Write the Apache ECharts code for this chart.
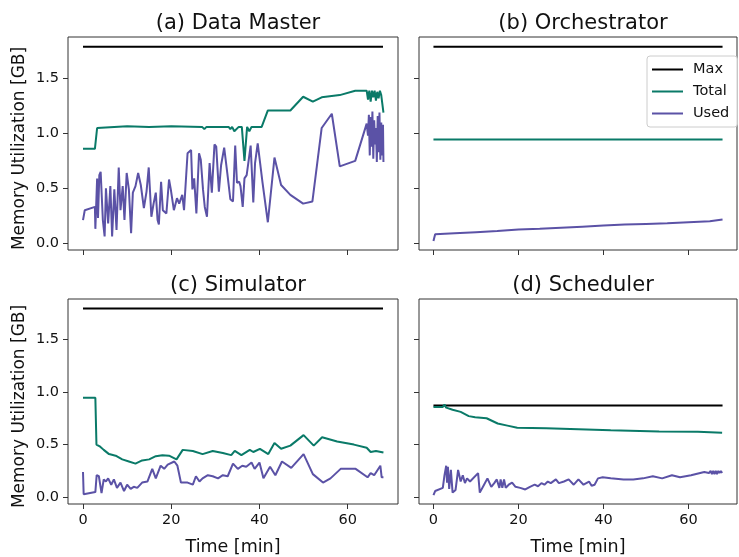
<!DOCTYPE html>
<html>
<head>
<meta charset="utf-8">
<script src="https://cdn.jsdelivr.net/npm/echarts@6/dist/echarts.min.js"></script>
<style>
  html, body { margin: 0; padding: 0; background: #fff; }
  #chart { width: 739px; height: 557px; }
</style>
</head>
<body>
<div id="chart"></div>
<script>
// panel titles and series names
const panelTitles = ['(a) Data Master', '(b) Orchestrator', '(c) Simulator', '(d) Scheduler'];
const seriesNames = ['Max', 'Total', 'Used'];
const xTicks = [0, 20, 40, 60];
const yTicks = [0, 0.5, 1.0, 1.5];

// Max memory limit per panel, drawn from t=0 to t=68 min
const maxSpan = [0, 68];
const maxValues = [1.79, 1.79, 1.79, 0.87];

// (a) Data Master  [time (min), GB]
const dmTotal = [
  [0, 0.86], [2.7, 0.86], [3.2, 1.05], [3.6, 1.06], [10, 1.065], [15, 1.06], [20, 1.065],
  [27.0, 1.06], [27.5, 1.04], [28.0, 1.06], [33.0, 1.06], [33.4, 1.04], [33.8, 1.06], [34.3, 1.02],
  [35.3, 1.06], [36.0, 1.06], [36.6, 0.75], [37.2, 1.06], [37.7, 1.02], [38.2, 1.06], [40.5, 1.06],
  [41.9, 1.21], [47.0, 1.21], [49.9, 1.335], [52.1, 1.29], [54.1, 1.33], [58.2, 1.35], [61.7, 1.39],
  [64.3, 1.39], [64.6, 1.31], [64.9, 1.39], [65.2, 1.29], [65.5, 1.39], [65.8, 1.33], [66.1, 1.39],
  [66.4, 1.30], [66.7, 1.38], [67.0, 1.32], [67.3, 1.39], [67.6, 1.35], [68.1, 1.19]
];
const dmUsed = [
  [0, 0.21], [0.4, 0.30], [2.7, 0.33], [2.8, 0.13], [3.2, 0.59], [3.4, 0.23], [3.7, 0.62], [4.0, 0.65],
  [4.5, 0.21], [4.9, 0.06], [5.2, 0.50], [5.7, 0.18], [6.2, 0.52], [6.6, 0.06], [7.1, 0.49], [7.6, 0.12],
  [8.1, 0.69], [8.5, 0.30], [9.0, 0.52], [9.4, 0.21], [9.9, 0.64], [10.4, 0.49], [10.9, 0.09], [11.3, 0.46],
  [11.9, 0.52], [12.5, 0.64], [13.1, 0.53], [13.8, 0.32], [14.4, 0.47], [14.9, 0.69], [15.5, 0.24],
  [16.0, 0.36], [16.5, 0.46], [16.9, 0.21], [17.2, 0.17], [17.7, 0.56], [18.1, 0.30], [18.9, 0.27],
  [19.5, 0.58], [19.9, 0.49], [20.6, 0.30], [21.3, 0.41], [21.8, 0.36], [22.5, 0.44], [22.9, 0.30],
  [23.7, 0.82], [24.5, 0.85], [24.8, 0.49], [25.2, 0.59], [25.7, 0.27], [26.3, 0.82], [26.7, 0.76],
  [27.2, 0.49], [27.6, 0.33], [28.1, 0.24], [28.7, 0.73], [29.2, 0.46], [29.8, 0.90], [30.2, 0.88],
  [30.8, 0.47], [31.3, 0.71], [32.0, 0.87], [32.7, 0.64], [33.4, 0.40], [34.0, 0.38], [34.5, 0.89],
  [34.9, 0.55], [35.4, 0.56], [35.7, 0.52], [36.2, 0.33], [36.6, 0.59], [37.1, 0.62], [38.0, 0.89],
  [38.6, 0.37], [39.0, 0.73], [39.6, 0.91], [40.7, 0.55], [41.9, 0.19], [43.4, 0.78], [44.9, 0.53],
  [47.0, 0.44], [49.9, 0.36], [52.0, 0.38], [54.1, 1.05], [56.4, 1.18], [58.2, 0.70], [61.7, 0.75],
  [64.3, 1.09], [64.6, 0.98], [64.8, 1.17], [65.0, 0.80], [65.2, 1.15], [65.4, 0.88], [65.6, 1.20],
  [65.8, 0.77], [66.0, 1.12], [66.2, 0.90], [66.4, 1.05], [66.6, 0.74], [66.8, 1.16], [67.0, 0.83],
  [67.2, 1.19], [67.4, 0.76], [67.6, 1.10], [67.8, 0.80], [68.0, 1.08], [68.1, 0.74]
];

// (b) Orchestrator
const orTotal = [[0, 0.945], [68, 0.945]];
const orUsed = [
  [0, 0.02], [0.4, 0.08], [5, 0.09], [10, 0.10], [15, 0.11], [20, 0.125], [25, 0.13], [30, 0.14],
  [35, 0.15], [40, 0.16], [45, 0.17], [50, 0.175], [55, 0.18], [60, 0.19], [65, 0.20], [68, 0.215]
];

// (c) Simulator
const simTotal = [
  [0, 0.945], [2.8, 0.945], [3.05, 0.50], [3.9, 0.48], [4.7, 0.45], [5.9, 0.41], [7.4, 0.395],
  [8.9, 0.36], [10.4, 0.34], [11.9, 0.32], [13.4, 0.35], [15.0, 0.36], [16.5, 0.39], [18.0, 0.40],
  [19.5, 0.395], [21.2, 0.36], [22.6, 0.45], [24.9, 0.44], [27.1, 0.41], [29.4, 0.44], [31.7, 0.42],
  [33.6, 0.40], [34.4, 0.44], [35.9, 0.40], [37.8, 0.45], [38.6, 0.43], [40.1, 0.46], [42.0, 0.41],
  [43.4, 0.515], [44.9, 0.46], [47.0, 0.49], [50.0, 0.59], [52.3, 0.49], [54.2, 0.57], [57.6, 0.53],
  [61.4, 0.50], [64.3, 0.47], [65.2, 0.43], [66.4, 0.44], [68.1, 0.425]
];
const simUsed = [
  [0, 0.24], [0.15, 0.03], [2.8, 0.05], [3.1, 0.21], [3.6, 0.20], [4.2, 0.04], [4.7, 0.17], [5.2, 0.15],
  [5.7, 0.18], [6.4, 0.12], [7.0, 0.17], [7.7, 0.09], [8.5, 0.14], [9.3, 0.06], [10.0, 0.12], [10.8, 0.08],
  [11.5, 0.10], [12.3, 0.09], [13.4, 0.14], [14.6, 0.15], [15.7, 0.27], [16.5, 0.18], [17.6, 0.30],
  [18.4, 0.27], [19.2, 0.31], [20.7, 0.34], [21.4, 0.30], [22.2, 0.14], [23.7, 0.14], [24.9, 0.12],
  [25.6, 0.20], [26.4, 0.15], [27.1, 0.18], [28.3, 0.21], [29.4, 0.20], [30.6, 0.18], [31.7, 0.21],
  [32.8, 0.20], [34.0, 0.32], [35.1, 0.27], [36.1, 0.30], [37.0, 0.29], [38.2, 0.33], [38.9, 0.27],
  [40.0, 0.33], [40.9, 0.18], [42.4, 0.29], [43.6, 0.21], [45.1, 0.34], [47.2, 0.28], [50.0, 0.41],
  [52.1, 0.22], [54.4, 0.14], [56.1, 0.18], [58.4, 0.27], [61.8, 0.27], [64.5, 0.19], [65.2, 0.23],
  [66.0, 0.21], [67.4, 0.30], [67.7, 0.19], [68.1, 0.19]
];

// (d) Scheduler
const schTotal = [
  [0, 0.857], [2.2, 0.857], [2.6, 0.88], [3.0, 0.85], [4.5, 0.83], [6.4, 0.81], [8.3, 0.77],
  [9.8, 0.76], [12.5, 0.75], [15.1, 0.70], [17.4, 0.68], [19.7, 0.66], [26.5, 0.655], [34.1, 0.645],
  [41.7, 0.635], [53.1, 0.625], [62.2, 0.622], [67.9, 0.612]
];
const schUsed = [
  [0, 0.02], [0.4, 0.06], [2.2, 0.09], [2.6, 0.21], [3.0, 0.30], [3.2, 0.14], [3.4, 0.29], [3.7, 0.08],
  [4.1, 0.26], [4.5, 0.045], [5.2, 0.07], [5.8, 0.26], [6.4, 0.15], [6.9, 0.21], [7.4, 0.135], [7.9, 0.18],
  [8.6, 0.15], [10.5, 0.23], [10.9, 0.045], [11.9, 0.12], [12.7, 0.18], [13.6, 0.10], [14.3, 0.135],
  [14.9, 0.17], [15.5, 0.09], [15.8, 0.17], [16.2, 0.09], [16.6, 0.17], [17.0, 0.09], [17.7, 0.12],
  [18.5, 0.14], [19.3, 0.10], [20.4, 0.09], [21.6, 0.075], [22.7, 0.10], [23.8, 0.12], [24.6, 0.105],
  [25.4, 0.135], [26.1, 0.12], [26.9, 0.15], [27.6, 0.135], [28.8, 0.17], [29.5, 0.135], [30.7, 0.15],
  [31.8, 0.17], [33.0, 0.12], [34.1, 0.17], [35.3, 0.12], [36.6, 0.15], [37.2, 0.11], [37.9, 0.12],
  [38.7, 0.18], [39.8, 0.19], [41.7, 0.18], [44.7, 0.17], [47.0, 0.17], [49.3, 0.18], [51.6, 0.20],
  [53.8, 0.18], [56.1, 0.21], [58.0, 0.19], [60.6, 0.21], [63.7, 0.24], [64.8, 0.23], [65.2, 0.25],
  [65.5, 0.22], [65.8, 0.25], [66.1, 0.22], [66.4, 0.25], [66.7, 0.22], [67.0, 0.25], [67.3, 0.23],
  [67.6, 0.25], [67.9, 0.23]
];

const totals = [dmTotal, orTotal, simTotal, schTotal];
const useds = [dmUsed, orUsed, simUsed, schUsed];

const FONT = 'DejaVu Sans';
const COLORS = { Max: '#000000', Total: '#0a7a68', Used: '#5b52a6' };
// plain line legend icon (31x14 box, 2px bar in the middle)
const LINE_ICON = 'path://M0,0L0.01,0M0,6H31V8H0ZM31,14L30.99,14';

// layout of the 2x2 panels (px)
const grids = [
  { left: 68, top: 37, width: 330, height: 213 },
  { left: 419, top: 37, width: 318, height: 213 },
  { left: 68, top: 299, width: 330, height: 213 },
  { left: 419, top: 299, width: 318, height: 213 }
];

const chart = echarts.init(document.getElementById('chart'), null, { renderer: 'canvas' });

const option = {
  backgroundColor: '#fff',
  animation: false,
  title: panelTitles.map((t, i) => ({
    text: t,
    left: grids[i].left + grids[i].width / 2,
    top: grids[i].top - 29,
    textAlign: 'center',
    textStyle: { fontFamily: FONT, fontSize: 21, fontWeight: 'normal', color: '#111' }
  })),
  legend: {
    data: seriesNames.map(n => ({ name: n, icon: LINE_ICON })),
    orient: 'vertical',
    left: 647,
    top: 56,
    itemWidth: 31,
    itemHeight: 14,
    itemGap: 7,
    symbolKeepAspect: true,
    padding: [6, 8, 6, 5],
    backgroundColor: 'rgba(255,255,255,0.85)',
    borderColor: '#cccccc',
    borderWidth: 1,
    borderRadius: 3,
    itemStyle: { borderWidth: 0 },
    textStyle: { fontFamily: FONT, fontSize: 14.5, color: '#111', padding: [0, 0, 0, 5] }
  },
  grid: grids.map(g => ({ ...g, show: true, borderColor: '#333', borderWidth: 1, containLabel: false })),
  xAxis: grids.map((g, i) => ({
    type: 'value',
    gridIndex: i,
    min: -3.4,
    max: 71.4,
    name: i >= 2 ? 'Time [min]' : '',
    nameLocation: 'middle',
    nameGap: 34,
    nameTextStyle: { fontFamily: FONT, fontSize: 17.5, color: '#111' },
    axisLine: { show: false, onZero: false },
    splitLine: { show: false },
    axisTick: { show: true, inside: false, length: 5, customValues: xTicks, lineStyle: { color: '#333' } },
    axisLabel: {
      show: i >= 2, customValues: xTicks, margin: 9,
      fontFamily: FONT, fontSize: 14.5, color: '#111'
    }
  })),
  yAxis: grids.map((g, i) => ({
    type: 'value',
    gridIndex: i,
    min: -0.063,
    max: 1.88,
    name: i % 2 === 0 ? 'Memory Utilization [GB]' : '',
    nameLocation: 'middle',
    nameGap: 40,
    nameTextStyle: { fontFamily: FONT, fontSize: 17, color: '#111', padding: [0, 10, 0, 0] },
    axisLine: { show: false, onZero: false },
    splitLine: { show: false },
    axisTick: { show: true, inside: false, length: 5, customValues: yTicks, lineStyle: { color: '#333' } },
    axisLabel: {
      show: i % 2 === 0, customValues: yTicks, margin: 9,
      formatter: v => v.toFixed(1),
      fontFamily: FONT, fontSize: 14.5, color: '#111'
    }
  })),
  series: []
};

for (let i = 0; i < 4; i++) {
  const lines = {
    Max: [[maxSpan[0], maxValues[i]], [maxSpan[1], maxValues[i]]],
    Total: totals[i],
    Used: useds[i]
  };
  seriesNames.forEach(name => {
    option.series.push({
      name,
      type: 'line',
      xAxisIndex: i,
      yAxisIndex: i,
      data: lines[name],
      symbol: 'none',
      color: COLORS[name],
      lineStyle: { color: COLORS[name], width: 2 },
      silent: true
    });
  });
}

chart.setOption(option);
</script>
</body>
</html>
